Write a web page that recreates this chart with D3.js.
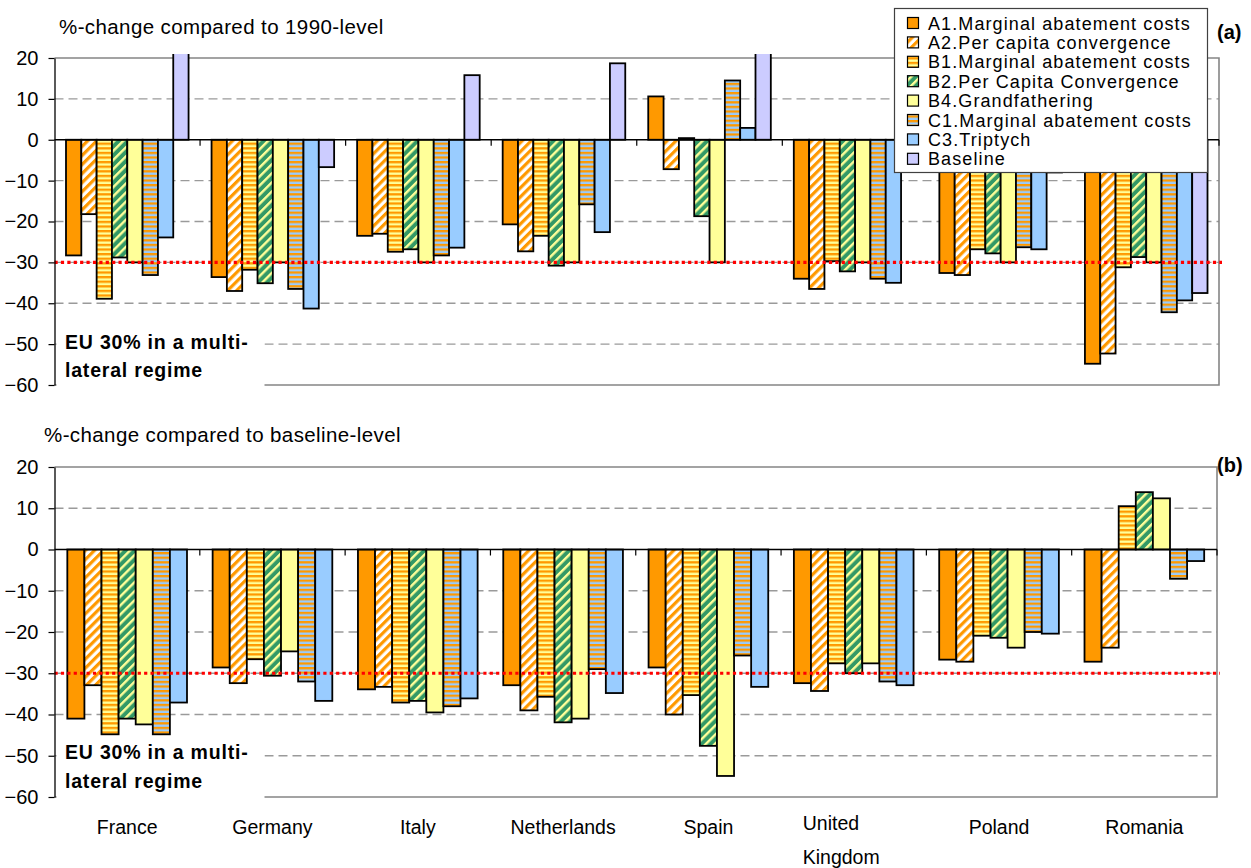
<!DOCTYPE html>
<html>
<head>
<meta charset="utf-8">
<script src="https://cdn.jsdelivr.net/npm/d3@7"></script>
<style>
  body { margin: 0; background: #fff; }
  svg text { font-family: "Liberation Sans", Arial, sans-serif; fill: #000; }
</style>
</head>
<body>
<svg id="chart" width="1251" height="868"></svg>
<script>
// ---- data ----------------------------------------------------------------
const countries = ["France", "Germany", "Italy", "Netherlands", "Spain", "United Kingdom", "Poland", "Romania"];
const scenarios = [
  "A1.Marginal abatement costs",
  "A2.Per capita convergence",
  "B1.Marginal abatement costs",
  "B2.Per Capita Convergence",
  "B4.Grandfathering",
  "C1.Marginal abatement costs",
  "C3.Triptych",
  "Baseline"
];
const yTickValues = [20, 10, 0, -10, -20, -30, -40, -50, -60];
const euTarget = -30;

// (a) %-change compared to 1990-level
const vs1990_A1   = [-28.3, -33.6, -23.5, -20.7, 10.6, -34.0, -32.6, -54.8];
const vs1990_A2   = [-18.2, -37.0, -23.0, -27.3, -7.2, -36.5, -33.1, -52.3];
const vs1990_B1   = [-38.9, -31.8, -27.4, -23.5, 0.4, -29.7, -26.8, -31.2];
const vs1990_B2   = [-28.8, -35.1, -26.8, -30.8, -18.7, -32.2, -27.8, -28.7];
const vs1990_B4   = [-30.0, -30.0, -30.0, -30.0, -30.0, -30.0, -30.0, -30.0];
const vs1990_C1   = [-33.1, -36.5, -28.3, -15.8, 14.5, -34.0, -26.3, -42.2];
const vs1990_C3   = [-23.9, -41.3, -26.4, -22.6, 2.9, -35.0, -26.8, -39.3];
const vs1990_Base = [21.5, -6.7, 15.8, 18.7, 55.0, -3.0, -8.0, -37.5];

// (b) %-change compared to baseline-level
const vsBase_A1 = [-41.0, -28.6, -33.9, -32.9, -28.6, -32.4, -26.7, -27.2];
const vsBase_A2 = [-32.9, -32.4, -33.3, -39.0, -40.0, -34.3, -27.2, -23.8];
const vsBase_B1 = [-44.8, -26.6, -37.1, -35.7, -35.3, -27.6, -20.9, 10.5];
const vsBase_B2 = [-41.0, -30.6, -36.7, -41.9, -47.6, -30.0, -21.4, 13.9];
const vsBase_B4 = [-42.4, -24.7, -39.5, -41.0, -54.9, -27.6, -23.8, 12.4];
const vsBase_C1 = [-44.8, -32.0, -38.0, -29.0, -25.7, -32.0, -20.0, -7.1];
const vsBase_C3 = [-37.1, -36.7, -36.1, -34.8, -33.3, -32.9, -20.4, -2.8];

const panelAValues = [vs1990_A1, vs1990_A2, vs1990_B1, vs1990_B2, vs1990_B4, vs1990_C1, vs1990_C3, vs1990_Base];
const panelBValues = [vsBase_A1, vsBase_A2, vsBase_B1, vsBase_B2, vsBase_B4, vsBase_C1, vsBase_C3];

// ---- styles ----------------------------------------------------------------
const ORANGE = "#FF9900", PALEYEL = "#FFFF99", LBLUE = "#99CCFF", GREEN = "#339966", LAV = "#CCCCFF";
const fills = ["url(#fA1)", "url(#fA2)", "url(#fB1)", "url(#fB2)", "url(#fB4)", "url(#fC1)", "url(#fC3)", "url(#fBase)"];

const svg = d3.select("#chart");
const defs = svg.append("defs");

function solid(id, color) {
  const p = defs.append("pattern").attr("id", id).attr("patternUnits", "userSpaceOnUse")
    .attr("width", 4).attr("height", 4);
  p.append("rect").attr("width", 4).attr("height", 4).attr("fill", color);
}
function diagonal(id, bg, fg, period, stripe) {
  const p = defs.append("pattern").attr("id", id).attr("patternUnits", "userSpaceOnUse")
    .attr("width", period).attr("height", 10).attr("patternTransform", "rotate(45)");
  p.append("rect").attr("width", period).attr("height", 10).attr("fill", bg);
  p.append("rect").attr("width", stripe).attr("height", 10).attr("fill", fg);
}
function horizontal(id, a, b, period) {
  const p = defs.append("pattern").attr("id", id).attr("patternUnits", "userSpaceOnUse")
    .attr("width", 4).attr("height", period);
  p.append("rect").attr("width", 4).attr("height", period).attr("fill", b);
  p.append("rect").attr("width", 4).attr("height", period / 2).attr("fill", a);
}
solid("fA1", ORANGE);
diagonal("fA2", "#FFFFFF", ORANGE, 6.4, 3.2);
horizontal("fB1", ORANGE, PALEYEL, 4.6);
diagonal("fB2", GREEN, PALEYEL, 6.4, 2.4);
solid("fB4", PALEYEL);
horizontal("fC1", ORANGE, LBLUE, 4.6);
solid("fC3", LBLUE);
solid("fBase", LAV);

// ---- panels ----------------------------------------------------------------
const panels = [
  { id: "a", values: panelAValues, left: 54.5, right: 1219, top: 58, bottom: 385,
    title: "%-change compared to 1990-level", titleX: 59, titleY: 34,
    tag: "(a)", tagX: 1217, tagY: 39, noteY: [349, 377], noteBox: [322, 388], showCats: false },
  { id: "b", values: panelBValues, left: 54.5, right: 1217, top: 467, bottom: 797,
    title: "%-change compared to baseline-level", titleX: 44, titleY: 442,
    tag: "(b)", tagX: 1217, tagY: 472, noteY: [759, 788], noteBox: [736, 800], showCats: true }
];

panels.forEach(P => {
  const g = svg.append("g");
  const n = P.values.length;
  const y = d3.scaleLinear().domain([-60, 20]).range([P.bottom, P.top]);
  const x0 = d3.scaleBand().domain(countries).range([P.left, P.right]).padding(0);
  const x1 = d3.scaleBand().domain(d3.range(n)).range([0, x0.bandwidth()])
    .paddingInner(0).paddingOuter(0.75);

  // dashed gridlines
  g.append("g").selectAll("line")
    .data(yTickValues.filter(v => v !== 20 && v !== 0 && v !== -60))
    .join("line")
    .attr("x1", P.left).attr("x2", P.right)
    .attr("y1", d => y(d)).attr("y2", d => y(d))
    .attr("stroke", "#9a9a9a").attr("stroke-width", 1.3)
    .attr("stroke-dasharray", "9,5");

  // plot frame (top, right, bottom)
  g.append("path")
    .attr("d", `M${P.left},${y(20)}H${P.right}V${y(-60)}H${P.left}`)
    .attr("fill", "none").attr("stroke", "#858585").attr("stroke-width", 1.6);

  // bars
  const clipId = "clip" + P.id;
  defs.append("clipPath").attr("id", clipId).append("rect")
    .attr("x", P.left - 2).attr("y", y(20) - 4)
    .attr("width", P.right - P.left + 4).attr("height", y(-60) - y(20) + 6);

  const barData = [];
  countries.forEach((c, ci) => {
    P.values.forEach((series, si) => barData.push({ c, si, v: series[ci] }));
  });
  g.append("g").attr("clip-path", `url(#${clipId})`)
    .selectAll("rect").data(barData).join("rect")
    .attr("x", d => x0(d.c) + x1(d.si))
    .attr("width", x1.bandwidth())
    .attr("y", d => Math.min(y(d.v), y(0)))
    .attr("height", d => Math.abs(y(d.v) - y(0)))
    .attr("fill", d => fills[d.si])
    .attr("stroke", "#000").attr("stroke-width", 1.8);

  // zero line with category separators
  g.append("line").attr("x1", P.left).attr("x2", P.right)
    .attr("y1", y(0)).attr("y2", y(0)).attr("stroke", "#000").attr("stroke-width", 1.6);
  g.append("g").selectAll("line").data(countries.slice(1).concat(["__end"]))
    .join("line")
    .attr("x1", (d, i) => i < countries.length - 1 ? x0(d) : P.right)
    .attr("x2", (d, i) => i < countries.length - 1 ? x0(d) : P.right)
    .attr("y1", y(0)).attr("y2", y(0) + 6)
    .attr("stroke", "#000").attr("stroke-width", 1.2);

  // EU target line
  g.append("line").attr("x1", P.left).attr("x2", P.right + 3)
    .attr("y1", y(euTarget)).attr("y2", y(euTarget))
    .attr("stroke", "#FF0000").attr("stroke-width", 3.2)
    .attr("stroke-dasharray", "3.2,3.2");

  // annotation box
  g.append("rect").attr("x", P.left + 2).attr("y", P.noteBox[0])
    .attr("width", 208).attr("height", P.noteBox[1] - P.noteBox[0]).attr("fill", "#fff");
  const note = g.append("text").attr("font-weight", "bold").attr("font-size", 19.5)
    .attr("letter-spacing", 0.8);
  note.append("tspan").attr("x", 65).attr("y", P.noteY[0]).text("EU 30% in a multi-");
  note.append("tspan").attr("x", 65).attr("y", P.noteY[1]).text("lateral regime");

  // y axis
  const axis = g.append("g").attr("transform", `translate(${P.left},0)`)
    .call(d3.axisLeft(y).tickValues(yTickValues).tickSize(6).tickSizeOuter(0).tickPadding(10));
  axis.select(".domain").attr("stroke", "#000").attr("stroke-width", 1.3);
  axis.selectAll(".tick line").attr("stroke", "#000").attr("stroke-width", 1.2);
  axis.selectAll(".tick text").attr("font-size", 20).attr("font-family", "Liberation Sans, Arial, sans-serif")
    .attr("fill", "#000");

  // titles
  g.append("text").attr("x", P.titleX).attr("y", P.titleY).attr("font-size", 20.5)
    .attr("letter-spacing", 0.4).text(P.title);
  g.append("text").attr("x", P.tagX).attr("y", P.tagY).attr("font-size", 20)
    .attr("font-weight", "bold").text(P.tag);

  // category labels
  if (P.showCats) {
    const cat = g.append("g").selectAll("text").data(countries).join("text")
      .attr("font-size", 19.5);
    cat.each(function (d) {
      const t = d3.select(this);
      const cx = x0(d) + x0.bandwidth() / 2;
      if (d.includes(" ")) {
        const parts = d.split(" ");
        t.attr("text-anchor", "start");
        parts.forEach((p, i) => t.append("tspan").attr("x", cx - 51).attr("y", 830 + i * 34).text(p));
      } else {
        t.attr("text-anchor", "middle").attr("x", cx).attr("y", 834).text(d);
      }
    });
  }
});

// ---- legend ----------------------------------------------------------------
const legend = svg.append("g");
legend.append("rect").attr("x", 894.5).attr("y", 8.5).attr("width", 313).attr("height", 164)
  .attr("fill", "#fff").attr("stroke", "#404040").attr("stroke-width", 1.2);
const rows = legend.selectAll("g.row").data(scenarios).join("g")
  .attr("class", "row").attr("transform", (d, i) => `translate(0,${23 + i * 19.4})`);
rows.append("rect").attr("x", 907.5).attr("y", -5.5).attr("width", 11).attr("height", 11)
  .attr("fill", (d, i) => fills[i]).attr("stroke", "#000").attr("stroke-width", 1.2);
rows.append("text").attr("x", 928).attr("y", 6.5).attr("font-size", 18).attr("letter-spacing", 1.1)
  .text(d => d);
</script>
</body>
</html>
